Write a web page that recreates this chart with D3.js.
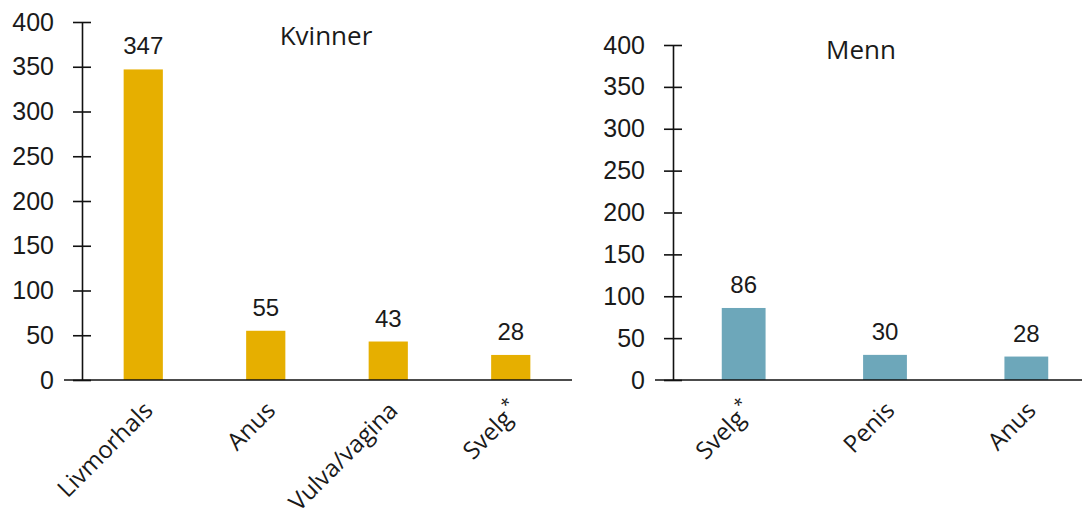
<!DOCTYPE html>
<html><head><meta charset="utf-8">
<script src="https://cdn.jsdelivr.net/npm/d3@7"></script>
<style>
body{margin:0;background:#fff;}
svg text{font-family:"Liberation Sans",Arial,sans-serif;fill:#1a1a1a;}
svg text.word{font-family:"Open Sans","DejaVu Sans",sans-serif;}
</style></head>
<body><svg id="c" width="1082" height="519"></svg>
<script>
const womenCategories = ["Livmorhals","Anus","Vulva/vagina","Svelg*"];
const womenValues = [347,55,43,28];
const menCategories = ["Svelg*","Penis","Anus"];
const menValues = [86,30,28];
const yTicks = [0,50,100,150,200,250,300,350,400];
const titles = ["Kvinner","Menn"];

const svg = d3.select("#c");

function panel(cfg){
  const g = svg.append("g");
  const x = d3.scaleBand().domain(cfg.cats).range([cfg.x0,cfg.x1]).paddingInner(cfg.pad).paddingOuter(cfg.pad/2);
  const y = d3.scaleLinear().domain([0,400]).range([cfg.yb,cfg.yt]);
  g.selectAll("rect.bar").data(cfg.vals).join("rect")
    .attr("x",(d,i)=>x(cfg.cats[i])).attr("width",x.bandwidth())
    .attr("y",d=>y(d)).attr("height",d=>y(0)-y(d)).attr("fill",cfg.color);
  g.append("line").attr("x1",cfg.xl0).attr("x2",cfg.xl1).attr("y1",y(0)).attr("y2",y(0))
    .attr("stroke","#111").attr("stroke-width",1.6);
  const ax = g.append("g").attr("transform",`translate(${cfg.x0},0)`)
    .call(d3.axisLeft(y).tickValues(yTicks).tickSize(9).tickPadding(19).tickSizeOuter(0));
  ax.select(".domain").attr("stroke","#111").attr("stroke-width",1.6);
  ax.selectAll(".tick line").attr("x1",-9).attr("x2",9).attr("stroke","#111").attr("stroke-width",1.6);
  ax.selectAll(".tick text").attr("font-size",25).style("font-family","'Liberation Sans',Arial,sans-serif").attr("fill","#1a1a1a");
  g.selectAll("text.val").data(cfg.vals).join("text").attr("class","val")
    .attr("x",(d,i)=>x(cfg.cats[i])+x.bandwidth()/2).attr("y",d=>y(d)-15)
    .attr("text-anchor","middle").attr("font-size",24).text(d=>d);
  cfg.cats.forEach((c)=>{
    const cx = x(c)+x.bandwidth()/2;
    const t = g.append("text").attr("class","word").attr("text-anchor","end").attr("font-size",24)
      .attr("transform",`translate(${cx+11},${y(0)+32}) rotate(-45)`);
    if(c.endsWith("*")){
      t.append("tspan").text(c.slice(0,-1));
      t.append("tspan").attr("dx",2).attr("dy",-10).attr("font-size",17).text("*");
    } else t.text(c);
  });
  g.append("text").attr("class","word").attr("x",cfg.tx).attr("y",cfg.ty).attr("text-anchor","middle")
    .attr("font-size",26).text(cfg.title);
}

panel({cats:womenCategories, vals:womenValues, x0:82, x1:572, pad:0.68, yb:380, yt:22,
  xl0:64, xl1:572, color:"#E6AF00", title:titles[0], tx:326, ty:45});
panel({cats:menCategories, vals:menValues, x0:673, x1:1097, pad:0.69, yb:380, yt:45,
  xl0:655, xl1:1082, color:"#6DA7BA", title:titles[1], tx:861, ty:59});
</script></body></html>
